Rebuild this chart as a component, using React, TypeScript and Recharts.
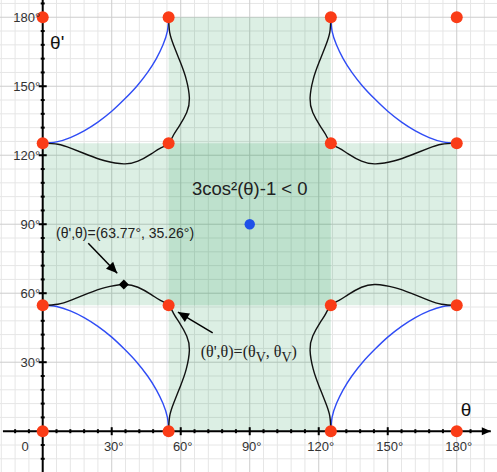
import React from 'react';
import { ComposedChart, XAxis, YAxis, Line, Scatter, ReferenceArea, CartesianGrid } from 'recharts';

const W = 497;
const H = 472;
const X_DOMAIN: [number, number] = [-18.57, 197.5];
const Y_DOMAIN: [number, number] = [-17.74, 187.5];

// special angles (degrees)
const MAGIC = 54.74;
const SUPP = 125.26;

// 16 red points (theta, theta')
const redDots = [
  { x: 0, y: 0 }, { x: 54.74, y: 0 }, { x: 125.26, y: 0 }, { x: 180, y: 0 },
  { x: 0, y: 54.74 }, { x: 54.74, y: 54.74 }, { x: 125.26, y: 54.74 }, { x: 180, y: 54.74 },
  { x: 0, y: 125.26 }, { x: 54.74, y: 125.26 }, { x: 125.26, y: 125.26 }, { x: 180, y: 125.26 },
  { x: 0, y: 180 }, { x: 54.74, y: 180 }, { x: 125.26, y: 180 }, { x: 180, y: 180 },
];
const blueDot = [{ x: 90, y: 90 }];
const diamondPt = [{ x: 35.26, y: 63.77 }];

// blue curves, one per corner
const blueLL = [[0,54.74],[6,54.2],[12,52.3],[18,49.4],[24,45.6],[30,40.9],[35.6,35.6],[40.9,30],[45.6,24],[49.4,18],[52.3,12],[54.2,6],[54.74,0]];
const blueUL = [[0,125.26],[6,125.8],[12,127.7],[18,130.6],[24,134.4],[30,139.1],[35.6,144.4],[40.9,150],[45.6,156],[49.4,162],[52.3,168],[54.2,174],[54.74,180]];
const blueLR = [[180,54.74],[174,54.2],[168,52.3],[162,49.4],[156,45.6],[150,40.9],[144.4,35.6],[139.1,30],[134.4,24],[130.6,18],[127.7,12],[125.8,6],[125.26,0]];
const blueUR = [[180,125.26],[174,125.8],[168,127.7],[162,130.6],[156,134.4],[150,139.1],[144.4,144.4],[139.1,150],[134.4,156],[130.6,162],[127.7,168],[125.8,174],[125.26,180]];

// black curves, one per corner
const blackLL = [[0,54.74],[6.6,55.2],[12.4,57.0],[19.7,59.9],[27,62.4],[35.26,63.77],[41.4,62.6],[47.2,59.4],[51,57.0],[54.74,54.74],[57.0,51],[59.4,47.2],[62.6,41.4],[63.77,35.26],[62.4,27],[59.9,19.7],[57.0,12.4],[55.2,6.6],[54.74,0]];
const blackUL = [[0,125.26],[6.6,124.8],[12.4,123.0],[19.7,120.1],[27,117.6],[35.26,116.23],[41.4,117.4],[47.2,120.6],[51,123.0],[54.74,125.26],[57.0,129],[59.4,132.8],[62.6,138.6],[63.77,144.74],[62.4,153],[59.9,160.3],[57.0,167.6],[55.2,173.4],[54.74,180]];
const blackLR = [[180,54.74],[173.4,55.2],[167.6,57.0],[160.3,59.9],[153,62.4],[144.74,63.77],[138.6,62.6],[132.8,59.4],[129,57.0],[125.26,54.74],[123,51],[120.6,47.2],[117.4,41.4],[116.23,35.26],[117.6,27],[120.1,19.7],[123,12.4],[124.8,6.6],[125.26,0]];
const blackUR = [[180,125.26],[173.4,124.8],[167.6,123.0],[160.3,120.1],[153,117.6],[144.74,116.23],[138.6,117.4],[132.8,120.6],[129,123.0],[125.26,125.26],[123,129],[120.6,132.8],[117.4,138.6],[116.23,144.74],[117.6,153],[120.1,160.3],[123,167.6],[124.8,173.4],[125.26,180]];

// tick labels
const majorTicks = [30, 60, 90, 120, 150, 180];
const xTickLabels = ['30°', '60°', '90°', '120°', '150°', '180°'];
const yTickLabels = ['30°', '60°', '90°', '120°', '150°', '180°'];
const minorTicks = [-12, -6, 6, 12, 18, 24, 36, 42, 48, 54, 66, 72, 78, 84, 96, 102, 108, 114, 126, 132, 138, 144, 156, 162, 168, 174, 186];
const gridMinor = [-18, -12, -6, 6, 12, 18, 24, 36, 42, 48, 54, 66, 72, 78, 84, 96, 102, 108, 114, 126, 132, 138, 144, 156, 162, 168, 174, 186, 192];
const gridMajor = [30, 60, 90, 120, 150, 180];

// axis lines and annotation arrows: [tail, tip]
const xAxisArrow = [[-17.3, 0], [194.8, 0]];
const yAxisLine = [[0, -17.74], [0, 187.5]];
const arrow1 = [[19.8, 81.7], [32.4, 68.7]];
const arrow2 = [[73.9, 42.8], [58.8, 51.8]];

const pts = (a: number[][]) => a.map(([x, y]) => ({ x, y }));

const SANS = '"Liberation Sans", Arial, Helvetica, sans-serif';
const SERIF = '"Liberation Serif", "Times New Roman", serif';

const mapVal = (axis: any, v: number, dom: [number, number], start: number, size: number, flip: boolean) => {
  if (axis && typeof axis.scale === 'function') {
    const r = axis.scale(v);
    if (typeof r === 'number' && !isNaN(r)) return r;
  }
  const t = (v - dom[0]) / (dom[1] - dom[0]);
  return flip ? start + (1 - t) * size : start + t * size;
};

const vGen = (vals: number[]) => (props: any) => {
  const off = props.offset || {};
  return vals.map((v) => mapVal(props.xAxis, v, X_DOMAIN, off.left ?? 0, off.width ?? W, false));
};
const hGen = (vals: number[]) => (props: any) => {
  const off = props.offset || {};
  return vals.map((v) => mapVal(props.yAxis, v, Y_DOMAIN, off.top ?? 0, off.height ?? H, true));
};

const makeArrowDot = (len: number, half: number, fallbackAngle: number) => (props: any) => {
  const { cx, cy, index, points } = props;
  if (index === 0) return <g key={`ad-${index}`} />;
  let ang = fallbackAngle;
  if (points && points.length > 1 && points[0] && points[0].x != null) {
    ang = Math.atan2(cy - points[0].y, cx - points[0].x);
  }
  const bx = cx - len * Math.cos(ang);
  const by = cy - len * Math.sin(ang);
  const nx = -Math.sin(ang) * half;
  const ny = Math.cos(ang) * half;
  return (
    <polygon
      key={`ad-${index}`}
      points={`${cx},${cy} ${bx + nx},${by + ny} ${bx - nx},${by - ny}`}
      fill="#000"
    />
  );
};

const textShape = (txt: React.ReactNode, opts: any) => (p: any) => (
  <text
    x={p.cx + (opts.dx || 0)}
    y={p.cy + (opts.dy || 0)}
    textAnchor={opts.anchor || 'start'}
    fontFamily={opts.family || SANS}
    fontSize={opts.size || 13}
    fill={opts.fill || '#333'}
  >
    {txt}
  </text>
);

export default function App() {
  return (
    <div style={{ position: 'absolute', left: 0, top: 0, width: W, height: H, background: '#fff' }}>
      <ComposedChart width={W} height={H} margin={{ top: 0, right: 0, bottom: 0, left: 0 }}>
        <XAxis type="number" dataKey="x" domain={X_DOMAIN} allowDataOverflow hide />
        <YAxis type="number" dataKey="y" domain={Y_DOMAIN} allowDataOverflow hide />

        <CartesianGrid stroke="#e6e6e6" strokeWidth={1}
          verticalCoordinatesGenerator={vGen(gridMinor)}
          horizontalCoordinatesGenerator={hGen(gridMinor)} />
        <CartesianGrid stroke="#cdcdcd" strokeWidth={1}
          verticalCoordinatesGenerator={vGen(gridMajor)}
          horizontalCoordinatesGenerator={hGen(gridMajor)} />

        <ReferenceArea x1={0} x2={180} y1={MAGIC} y2={SUPP} fill="#17944a" fillOpacity={0.15} stroke="none" />
        <ReferenceArea x1={MAGIC} x2={SUPP} y1={0} y2={180} fill="#17944a" fillOpacity={0.15} stroke="none" />

        {/* axes with arrow */}
        <Line data={pts(yAxisLine)} dataKey="y" type="linear" stroke="#000" strokeWidth={2} isAnimationActive={false} dot={false} activeDot={false} />
        <Line data={pts(xAxisArrow)} dataKey="y" type="linear" stroke="#000" strokeWidth={2} isAnimationActive={false} dot={makeArrowDot(9, 4, 0)} activeDot={false} />

        {/* axis tick marks */}
        <Scatter
          data={minorTicks.map((v) => ({ x: v, y: 0 }))}
          isAnimationActive={false}
          shape={(p: any) => <rect x={p.cx - 1} y={p.cy - 2} width={2} height={4} fill="#000" />}
        />
        <Scatter
          data={majorTicks.map((v) => ({ x: v, y: 0 }))}
          isAnimationActive={false}
          shape={(p: any) => <rect x={p.cx - 1} y={p.cy - 4} width={2} height={8} fill="#000" />}
        />
        <Scatter
          data={minorTicks.map((v) => ({ x: 0, y: v }))}
          isAnimationActive={false}
          shape={(p: any) => <rect x={p.cx - 2} y={p.cy - 1} width={4} height={2} fill="#000" />}
        />
        <Scatter
          data={majorTicks.map((v) => ({ x: 0, y: v }))}
          isAnimationActive={false}
          shape={(p: any) => <rect x={p.cx - 4} y={p.cy - 1} width={8} height={2} fill="#000" />}
        />

        <Scatter
          data={redDots}
          isAnimationActive={false}
          shape={(p: any) => <circle cx={p.cx} cy={p.cy} r={6} fill="#fa3c17" />}
        />
        <Scatter
          data={blueDot}
          isAnimationActive={false}
          shape={(p: any) => <circle cx={p.cx} cy={p.cy} r={5.2} fill="#1f50e8" />}
        />

        {[blueLL, blueUL, blueLR, blueUR].map((c, i) => (
          <Line key={`b${i}`} data={pts(c)} dataKey="y" type="natural" stroke="#2f4cf5" strokeWidth={1.4} dot={false} activeDot={false} isAnimationActive={false} />
        ))}
        {[blackLL, blackUL, blackLR, blackUR].map((c, i) => (
          <Line key={`k${i}`} data={pts(c)} dataKey="y" type="natural" stroke="#111" strokeWidth={1.4} dot={false} activeDot={false} isAnimationActive={false} />
        ))}

        <Scatter
          data={diamondPt}
          isAnimationActive={false}
          shape={(p: any) => (
            <polygon points={`${p.cx},${p.cy - 5} ${p.cx + 5},${p.cy} ${p.cx},${p.cy + 5} ${p.cx - 5},${p.cy}`} fill="#000" />
          )}
        />

        {/* annotation arrows */}
        <Line data={pts(arrow1)} dataKey="y" type="linear" stroke="#000" strokeWidth={1.5} isAnimationActive={false} activeDot={false} dot={makeArrowDot(11, 5, Math.atan2(30, 29))} />
        <Line data={pts(arrow2)} dataKey="y" type="linear" stroke="#000" strokeWidth={1.5} isAnimationActive={false} activeDot={false} dot={makeArrowDot(11, 5, Math.atan2(-20.7, -34.7))} />

        {/* tick labels */}
        {majorTicks.map((v, i) => (
          <Scatter key={`xl${v}`} data={[{ x: v, y: 0 }]} isAnimationActive={false}
            shape={textShape(xTickLabels[i], { dx: 2, dy: 19.3, anchor: 'middle', size: 13 })} />
        ))}
        <Scatter data={[{ x: 0, y: 0 }]} isAnimationActive={false}
          shape={textShape('0', { dx: -17.7, dy: 19.3, anchor: 'middle', size: 13 })} />
        {majorTicks.map((v, i) => (
          <Scatter key={`yl${v}`} data={[{ x: 0, y: v }]} isAnimationActive={false}
            shape={textShape(yTickLabels[i], { dx: -2.5, dy: 4.5, anchor: 'end', size: 13 })} />
        ))}

        {/* axis titles */}
        <Scatter data={[{ x: 3.2, y: 166.2 }]} isAnimationActive={false}
          shape={textShape("θ'", { size: 19, fill: '#111' })} />
        <Scatter data={[{ x: 181.7, y: 6.6 }]} isAnimationActive={false}
          shape={textShape('θ', { size: 19, fill: '#111' })} />

        {/* annotations */}
        <Scatter data={[{ x: 90, y: 102.5 }]} isAnimationActive={false}
          shape={textShape('3cos²(θ)-1 < 0', { anchor: 'middle', size: 18.5, fill: '#222' })} />
        <Scatter data={[{ x: 5.8, y: 84.2 }]} isAnimationActive={false}
          shape={textShape("(θ',θ)=(63.77°, 35.26°)", { size: 14, fill: '#222' })} />
        <Scatter data={[{ x: 68.7, y: 32.2 }]} isAnimationActive={false}
          shape={textShape(
            <>
              {"(θ',θ)=(θ"}
              <tspan dy={5} fontSize={14}>V</tspan>
              <tspan dy={-5}>{',  θ'}</tspan>
              <tspan dy={5} fontSize={14}>V</tspan>
              <tspan dy={-5}>{')'}</tspan>
            </>,
            { size: 16, family: SERIF, fill: '#222' }
          )} />
      </ComposedChart>
    </div>
  );
}
